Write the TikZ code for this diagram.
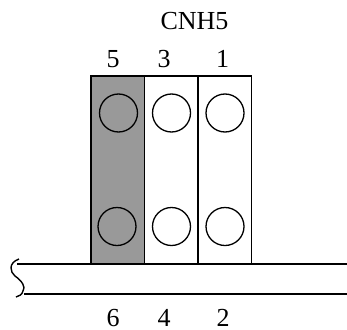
\documentclass[tikz,border=0pt]{standalone}
\usepackage{fontspec}
\setmainfont{Liberation Serif}
\tikzset{
  pinbox/.style={draw=black,line width=1.4pt,minimum width=53.5pt,minimum height=188pt,inner sep=0pt,outer sep=0pt,anchor=north west},
  pinhole/.style={circle,draw=black,line width=1.3pt,minimum size=38pt,inner sep=0pt},
  lbl/.style={font=\fontsize{26}{28}\selectfont,inner sep=0pt,text=black},
  edge line/.style={draw=black,line width=1.4pt}
}
\definecolor{pingray}{gray}{0.6}
\begin{document}
\begin{tikzpicture}[x=1pt,y=-1pt]
\useasboundingbox (0,0) rectangle (347,329);
\fill[white] (0,0) rectangle (347,329);
\node[pinbox,fill=pingray] (b5) at (91,76) {};
\node[pinbox] (b3) at (144.5,76) {};
\node[pinbox] (b1) at (198,76) {};
\node[pinhole] (c5) at (118.5,113) {};
\node[pinhole] (c3) at (171.5,113) {};
\node[pinhole] (c1) at (225,113) {};
\node[pinhole] (c6) at (117,226.5) {};
\node[pinhole] (c4) at (171.5,226.5) {};
\node[pinhole] (c2) at (225,226.5) {};
\coordinate (tl) at (17,264);
\coordinate (tr) at (347,264);
\coordinate (bl) at (24,294);
\coordinate (br) at (347,294);
\draw[edge line] (tl) -- (tr);
\draw[edge line] (bl) -- (br);
\draw[edge line] (19,259) .. controls (8,263) and (10,272) .. (15,276) .. controls (22,281) and (26,287) .. (23,291) .. controls (22,295) and (19,296) .. (16,297);
\node[lbl] (title) at (194.5,21) {CNH5};
\node[lbl] (n5) at (113,59) {5};
\node[lbl] (n3) at (164,59) {3};
\node[lbl] (n1) at (222.5,59) {1};
\node[lbl] (n6) at (113,318.5) {6};
\node[lbl] (n4) at (164,318) {4};
\node[lbl] (n2) at (223,318) {2};
\end{tikzpicture}
\end{document}
